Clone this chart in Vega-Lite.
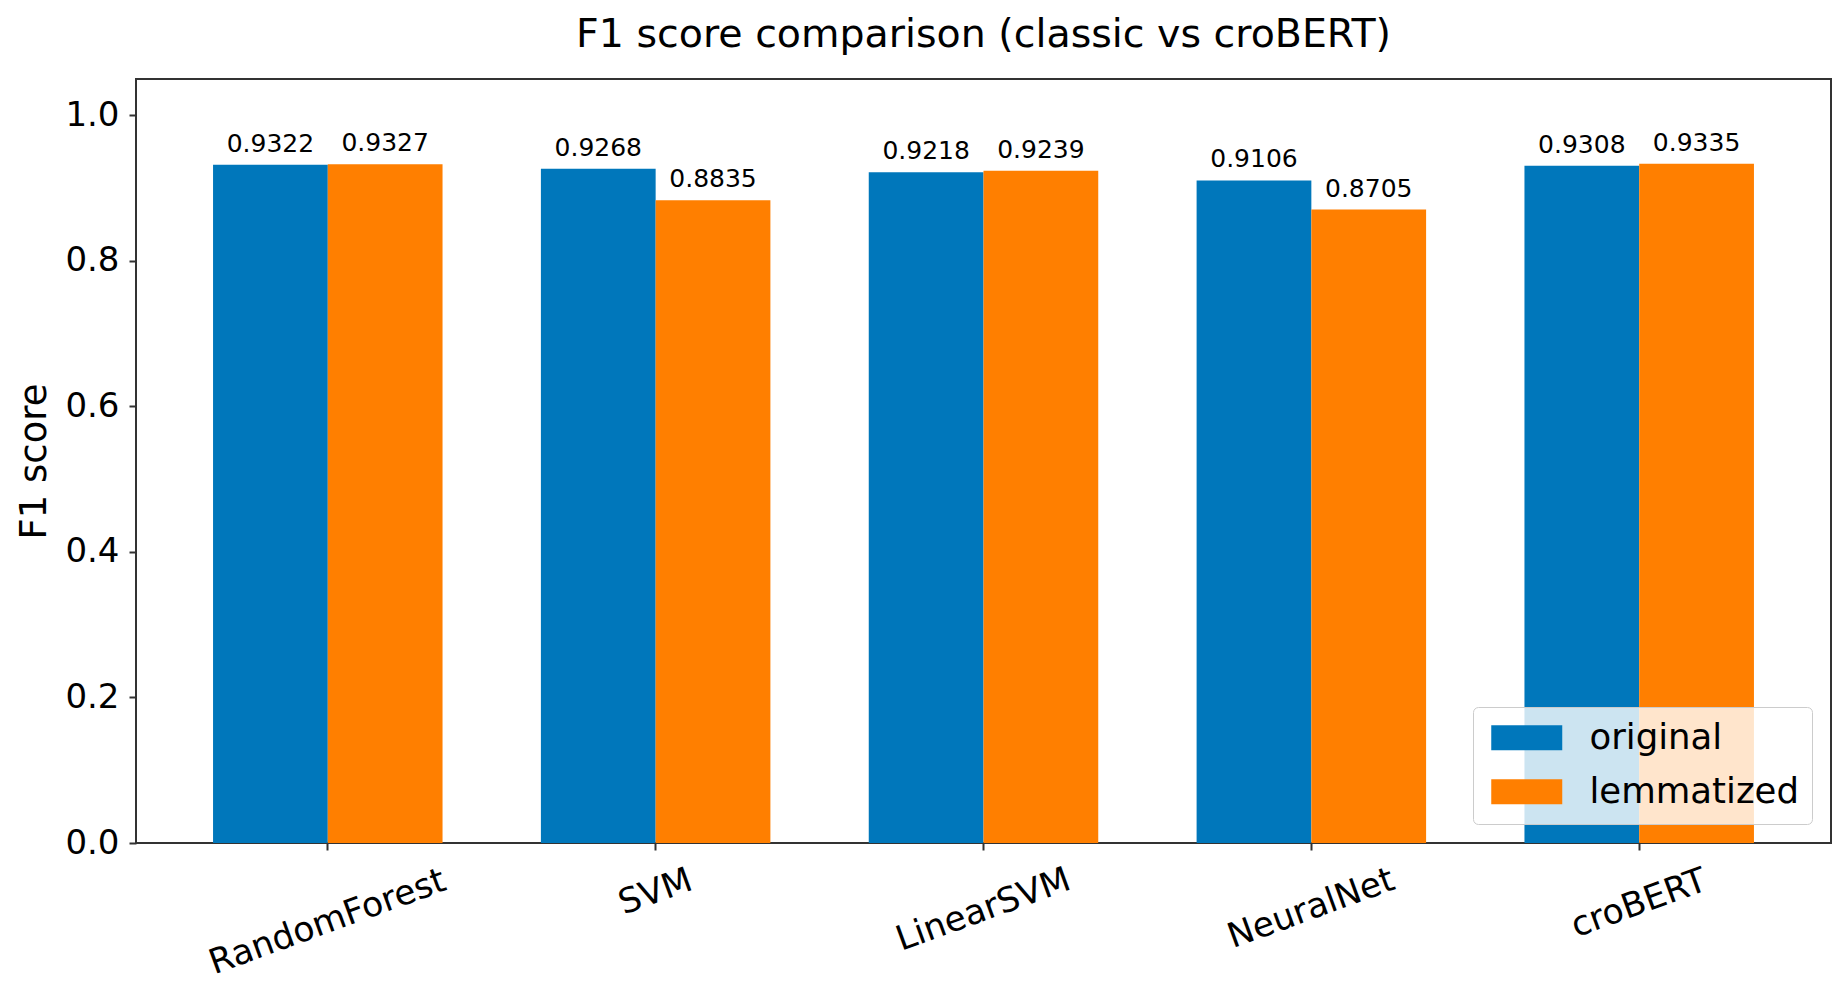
{
  "$schema": "https://vega.github.io/schema/vega-lite/v6.json",
  "autosize": "none",
  "width": 1695,
  "height": 764,
  "padding": {"left": 136, "top": 79, "right": 14, "bottom": 146},
  "background": "white",
  "title": {
    "text": "F1 score comparison (classic vs croBERT)",
    "font": "DejaVu Sans",
    "fontSize": 39.5,
    "fontWeight": "normal",
    "color": "black",
    "anchor": "middle",
    "baseline": "alphabetic",
    "offset": 28,
    "dy": 35
  },
  "data": {
    "values": [
      {"model": "RandomForest", "variant": "original", "f1": 0.9322},
      {"model": "RandomForest", "variant": "lemmatized", "f1": 0.9327},
      {"model": "SVM", "variant": "original", "f1": 0.9268},
      {"model": "SVM", "variant": "lemmatized", "f1": 0.8835},
      {"model": "LinearSVM", "variant": "original", "f1": 0.9218},
      {"model": "LinearSVM", "variant": "lemmatized", "f1": 0.9239},
      {"model": "NeuralNet", "variant": "original", "f1": 0.9106},
      {"model": "NeuralNet", "variant": "lemmatized", "f1": 0.8705},
      {"model": "croBERT", "variant": "original", "f1": 0.9308},
      {"model": "croBERT", "variant": "lemmatized", "f1": 0.9335}
    ]
  },
  "encoding": {
    "x": {
      "field": "model",
      "type": "nominal",
      "sort": ["RandomForest", "SVM", "LinearSVM", "NeuralNet", "croBERT"],
      "scale": {"paddingInner": 0.3, "paddingOuter": 0.235},
      "axis": {
        "title": null,
        "labelAngle": -20,
        "labelAlign": "center",
        "labelBaseline": "middle",
        "labelFont": "DejaVu Sans",
        "labelFontSize": 34.5,
        "labelColor": "black",
        "labelPadding": {
          "condition": [
            {"test": "datum.value == 'RandomForest'", "value": 72},
            {"test": "datum.value == 'SVM'", "value": 42},
            {"test": "datum.value == 'LinearSVM'", "value": 60},
            {"test": "datum.value == 'NeuralNet'", "value": 58.5}
          ],
          "value": 53.5
        },
        "labelLimit": 0,
        "labelOverlap": false,
        "labelFlush": false,
        "labelBound": false,
        "tickSize": 7,
        "tickWidth": 2,
        "tickColor": "#333333",
        "domain": false,
        "grid": false
      }
    },
    "xOffset": {
      "field": "variant",
      "type": "nominal",
      "sort": ["original", "lemmatized"],
      "scale": {"paddingInner": 0, "paddingOuter": 0}
    },
    "y": {
      "field": "f1",
      "type": "quantitative",
      "scale": {"domain": [0, 1.05], "nice": false},
      "axis": {
        "title": "F1 score",
        "titleFont": "DejaVu Sans",
        "titleFontSize": 37,
        "titleFontWeight": "normal",
        "titleColor": "black",
        "titlePadding": 11,
        "values": [0, 0.2, 0.4, 0.6, 0.8, 1.0],
        "format": ".1f",
        "labelFont": "DejaVu Sans",
        "labelFontSize": 34,
        "labelColor": "black",
        "labelPadding": 10,
        "tickSize": 7,
        "tickWidth": 2,
        "tickColor": "#333333",
        "domain": false,
        "grid": false
      }
    }
  },
  "layer": [
    {
      "mark": {"type": "bar", "strokeWidth": 0},
      "encoding": {
        "color": {
          "field": "variant",
          "type": "nominal",
          "scale": {"domain": ["original", "lemmatized"], "range": ["#0077bb", "#ff7f00"]},
          "legend": {
            "title": null,
            "orient": "bottom-right",
            "offset": 19,
            "fillColor": "rgba(255,255,255,0.8)",
            "strokeColor": "#cccccc",
            "cornerRadius": 5,
            "padding": 13,
            "labelFont": "DejaVu Sans",
            "labelFontSize": 35.5,
            "labelColor": "black",
            "labelLimit": 0,
            "labelOffset": 68,
            "rowPadding": 17,
            "symbolType": "M-1,-1H4.68V1H-1Z",
            "symbolSize": 625,
            "symbolStrokeWidth": 0,
            "symbolOpacity": 1
          }
        }
      }
    },
    {
      "mark": {
        "type": "text",
        "baseline": "alphabetic",
        "align": "center",
        "dy": -13,
        "font": "DejaVu Sans",
        "fontSize": 25,
        "color": "black"
      },
      "encoding": {
        "text": {"field": "f1", "type": "quantitative", "format": ".4f"}
      }
    }
  ],
  "config": {
    "view": {"stroke": "#333333", "strokeWidth": 2}
  }
}
